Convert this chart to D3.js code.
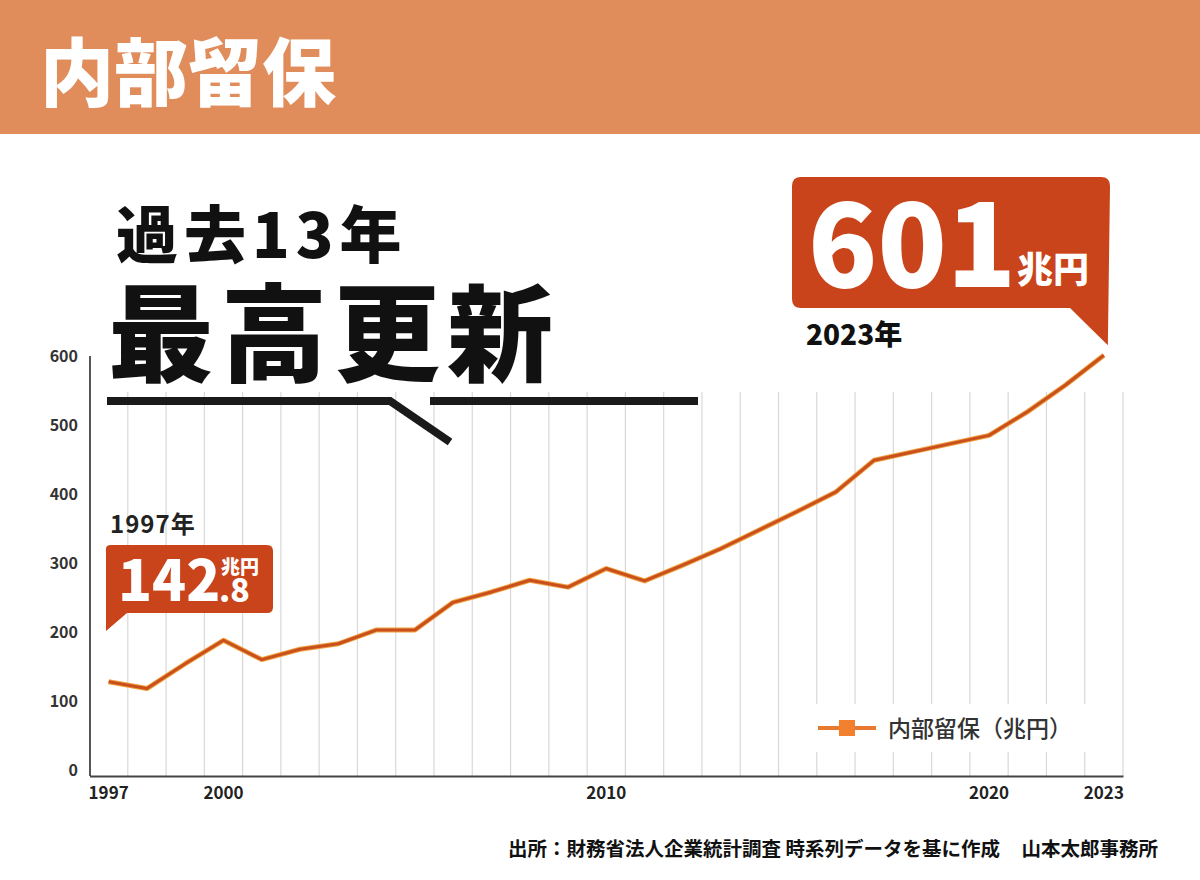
<!DOCTYPE html>
<html>
<head>
<meta charset="utf-8">
<script src="https://cdn.jsdelivr.net/npm/d3@7"></script>
<style>
  body { margin: 0; background: #fff; }
  text { font-family: "Noto Sans CJK JP", "Noto Sans", sans-serif; }
</style>
</head>
<body>
<div id="chart"></div>
<script>
// data (兆円)
var years = [1997, 1998, 1999, 2000, 2001, 2002, 2003, 2004, 2005, 2006, 2007, 2008, 2009, 2010,
             2011, 2012, 2013, 2014, 2015, 2016, 2017, 2018, 2019, 2020, 2021, 2022, 2023];
var retained = [128, 118, 154, 188, 160, 175, 183, 203, 203, 243, 258, 275, 265, 292,
                274, 297, 321, 348, 375, 403, 449, 461, 473, 485, 519, 558, 601];
var yTicks = [0, 100, 200, 300, 400, 500, 600];
var xTickLabels = [1997, 2000, 2010, 2020, 2023];
var seriesName = "内部留保（兆円）";

var width = 1200, height = 880;

var svg = d3.select("#chart").append("svg")
    .attr("width", width)
    .attr("height", height);

// header bar
svg.append("rect")
    .attr("x", 0).attr("y", 0)
    .attr("width", width).attr("height", 134)
    .attr("fill", "#e08c5b");

svg.append("text")
    .attr("x", 40).attr("y", 100)
    .attr("font-size", 74)
    .attr("font-weight", 900)
    .attr("fill", "#fff")
    .text("内部留保");

var x = d3.scaleBand()
    .domain(years)
    .range([89.5, 1123])
    .padding(0);

var y = d3.scaleLinear()
    .domain([0, 600])
    .range([770, 356]);

var baseY = 776;
var gridTop = 392;
var cx = function(yr) { return x(yr) + x.bandwidth() / 2; };

// vertical grid lines on band edges
svg.append("g")
    .selectAll("line")
    .data(years.slice(1).concat(["end"]))
    .enter().append("line")
    .attr("x1", function(d) { return d === "end" ? x.range()[1] : x(d); })
    .attr("x2", function(d) { return d === "end" ? x.range()[1] : x(d); })
    .attr("y1", gridTop)
    .attr("y2", baseY)
    .attr("stroke", "#d8d8d8")
    .attr("stroke-width", 1.2);

// y axis
var yAxis = svg.append("g")
    .attr("transform", "translate(78,0)")
    .call(d3.axisLeft(y).tickValues(yTicks).tickSize(0).tickPadding(0));
yAxis.select(".domain").remove();
yAxis.selectAll("text")
    .attr("font-size", 16)
    .attr("font-weight", 700)
    .attr("fill", "#333");

svg.append("line")
    .attr("x1", 90).attr("x2", 90)
    .attr("y1", y(600)).attr("y2", baseY)
    .attr("stroke", "#555")
    .attr("stroke-width", 2);

// x axis
var xAxis = svg.append("g")
    .attr("transform", "translate(0," + baseY + ")")
    .call(d3.axisBottom(x).tickValues(xTickLabels).tickSize(0).tickPadding(11));
xAxis.select(".domain")
    .attr("stroke", "#444")
    .attr("stroke-width", 2);
xAxis.selectAll("text")
    .attr("font-size", 17)
    .attr("font-weight", 700)
    .attr("fill", "#222");

// legend (white box covers the grid)
var legend = svg.append("g").attr("transform", "translate(818,728)");
legend.append("rect")
    .attr("x", -14).attr("y", -24)
    .attr("width", 290).attr("height", 48)
    .attr("fill", "#fff");
legend.append("line")
    .attr("x1", 0).attr("x2", 58)
    .attr("y1", 0).attr("y2", 0)
    .attr("stroke", "#e87a30")
    .attr("stroke-width", 4);
legend.append("rect")
    .attr("x", 21).attr("y", -8)
    .attr("width", 16).attr("height", 16)
    .attr("fill", "#f2802e");
legend.append("text")
    .attr("x", 70).attr("y", 9)
    .attr("font-size", 23)
    .attr("font-weight", 500)
    .attr("fill", "#333")
    .text(seriesName);

// the line
var line = d3.line()
    .x(function(d, i) { return cx(years[i]); })
    .y(function(d) { return y(d); });

svg.append("path")
    .datum(retained)
    .attr("fill", "none")
    .attr("stroke", "#f0a040")
    .attr("stroke-width", 5)
    .attr("stroke-linejoin", "round")
    .attr("d", line);
svg.append("path")
    .datum(retained)
    .attr("fill", "none")
    .attr("stroke", "#c9501c")
    .attr("stroke-width", 3)
    .attr("stroke-linejoin", "round")
    .attr("d", line);

// headline
svg.append("text")
    .attr("x", 116).attr("y", 258)
    .attr("font-size", 62)
    .attr("font-weight", 900)
    .attr("letter-spacing", 6)
    .attr("fill", "#111")
    .text("過去13年");

svg.append("text")
    .attr("x", 108).attr("y", 373)
    .attr("font-size", 106)
    .attr("font-weight", 900)
    .attr("letter-spacing", 7)
    .attr("fill", "#111")
    .text("最高更新");

svg.append("path")
    .attr("d", "M107,401H390L450,442M430,401H698")
    .attr("fill", "none")
    .attr("stroke", "#1a1a1a")
    .attr("stroke-width", 8);

// callout 2023
var last = years.length - 1;
var tip23 = [cx(years[last]) + 4, y(retained[last]) - 10];
var r = 9;
svg.append("path")
    .attr("d", "M" + (792 + r) + ",177"
        + "H" + (1110 - r) + "Q1110,177 1110," + (177 + r)
        + "L" + tip23[0] + "," + tip23[1]
        + "L1070,308"
        + "H" + (792 + r) + "Q792,308 792," + (308 - r)
        + "V" + (177 + r) + "Q792,177 " + (792 + r) + ",177Z")
    .attr("fill", "#c9441a");

var big = svg.append("text")
    .attr("x", 808).attr("y", 287)
    .attr("font-weight", 900)
    .attr("fill", "#fff");
big.append("tspan")
    .attr("font-size", 114)
    .text("601");
big.append("tspan")
    .attr("x", 1017).attr("y", 283)
    .attr("font-size", 36)
    .text("兆円");

svg.append("text")
    .attr("x", 806).attr("y", 345)
    .attr("font-size", 28)
    .attr("font-weight", 900)
    .attr("fill", "#111")
    .text("2023年");

// callout 1997
svg.append("text")
    .attr("x", 110).attr("y", 533)
    .attr("font-size", 24)
    .attr("font-weight", 700)
    .attr("fill", "#222")
    .attr("letter-spacing", 1)
    .text("1997年");

var r2 = 6;
svg.append("path")
    .attr("d", "M" + (105 + r2) + ",545"
        + "H" + (273 - r2) + "Q273,545 273," + (545 + r2)
        + "V" + (613 - r2) + "Q273,613 " + (273 - r2) + ",613"
        + "H127"
        + "L106,631"
        + "V" + (545 + r2) + "Q105,545 " + (105 + r2) + ",545Z")
    .attr("fill", "#c9441a");

var small = svg.append("text")
    .attr("x", 118).attr("y", 601)
    .attr("font-weight", 900)
    .attr("fill", "#fff");
small.append("tspan")
    .attr("font-size", 56)
    .text("142");
small.append("tspan")
    .attr("x", 221).attr("y", 574)
    .attr("font-size", 19)
    .text("兆円");
small.append("tspan")
    .attr("x", 219).attr("y", 602)
    .attr("font-size", 32)
    .text(".8");

// footer
svg.append("text")
    .attr("x", 508).attr("y", 856)
    .attr("font-size", 19.5)
    .attr("font-weight", 700)
    .attr("fill", "#111")
    .text("出所：財務省法人企業統計調査 時系列データを基に作成");
svg.append("text")
    .attr("x", 1158).attr("y", 856)
    .attr("text-anchor", "end")
    .attr("font-size", 19.5)
    .attr("font-weight", 700)
    .attr("fill", "#111")
    .text("山本太郎事務所");
</script>
</body>
</html>
